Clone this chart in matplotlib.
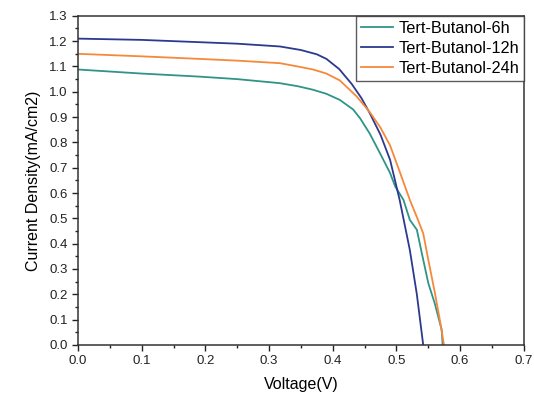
import numpy as np
import matplotlib.pyplot as plt
from matplotlib.ticker import MultipleLocator

plt.rcParams['font.family'] = ['Liberation Sans', 'DejaVu Sans']

# Tert-Butanol-6h
v6 = [0, 0.1, 0.19, 0.25, 0.317, 0.345, 0.369, 0.39, 0.411, 0.432, 0.443, 0.458,
      0.474, 0.49, 0.498, 0.511, 0.521, 0.532, 0.54, 0.55, 0.56, 0.571, 0.5725]
j6 = [1.088, 1.072, 1.06, 1.05, 1.034, 1.022, 1.008, 0.992, 0.968, 0.93, 0.895, 0.835,
      0.758, 0.679, 0.626, 0.573, 0.494, 0.455, 0.36, 0.244, 0.165, 0.06, 0.0]
# Tert-Butanol-12h
v12 = [0, 0.1, 0.19, 0.25, 0.317, 0.35, 0.375, 0.39, 0.41, 0.43, 0.445, 0.458,
       0.475, 0.49, 0.505, 0.521, 0.532, 0.542]
j12 = [1.21, 1.205, 1.196, 1.19, 1.179, 1.165, 1.148, 1.13, 1.09, 1.03, 0.975, 0.916,
       0.83, 0.731, 0.573, 0.375, 0.2, 0.0]
# Tert-Butanol-24h
v24 = [0, 0.1, 0.19, 0.25, 0.317, 0.345, 0.369, 0.39, 0.411, 0.437, 0.458, 0.475,
       0.49, 0.505, 0.521, 0.532, 0.542, 0.55, 0.56, 0.568, 0.5746]
j24 = [1.15, 1.14, 1.13, 1.123, 1.113, 1.1, 1.088, 1.072, 1.045, 0.983, 0.92, 0.858,
       0.788, 0.685, 0.573, 0.505, 0.441, 0.336, 0.21, 0.1, 0.0]

fig = plt.figure(figsize=(5.34, 3.96), dpi=100)
ax = fig.add_axes([0.146, 0.129, 0.835, 0.831])

ax.plot(v6, j6, color='#2f9488', lw=1.3, label='Tert-Butanol-6h')
ax.plot(v12, j12, color='#2b3990', lw=1.3, label='Tert-Butanol-12h')
ax.plot(v24, j24, color='#f7883a', lw=1.3, label='Tert-Butanol-24h')

ax.set_xlim(0, 0.7)
ax.set_ylim(0, 1.3)
ax.xaxis.set_major_locator(MultipleLocator(0.1))
ax.xaxis.set_minor_locator(MultipleLocator(0.05))
ax.yaxis.set_major_locator(MultipleLocator(0.1))
ax.yaxis.set_minor_locator(MultipleLocator(0.05))
ax.tick_params(which='both', direction='out', labelsize=9.5, colors='#222222')
ax.tick_params(which='major', length=4, width=1)
ax.tick_params(which='minor', length=2.5, width=1)
for s in ax.spines.values():
    s.set_linewidth(1.1)
    s.set_color('#333333')

ax.set_xlabel('Voltage(V)', fontsize=11.5, labelpad=7)
ax.set_ylabel('Current Density(mA/cm2)', fontsize=11.5, labelpad=6)

leg = ax.legend(loc='upper right', fontsize=11.7, frameon=True, fancybox=False,
                borderaxespad=0, handlelength=2.0, handletextpad=0.3,
                labelspacing=0.32, borderpad=0.3)
leg.get_frame().set_edgecolor('#333333')
leg.get_frame().set_linewidth(1.0)

plt.savefig('out.png', dpi=100)
